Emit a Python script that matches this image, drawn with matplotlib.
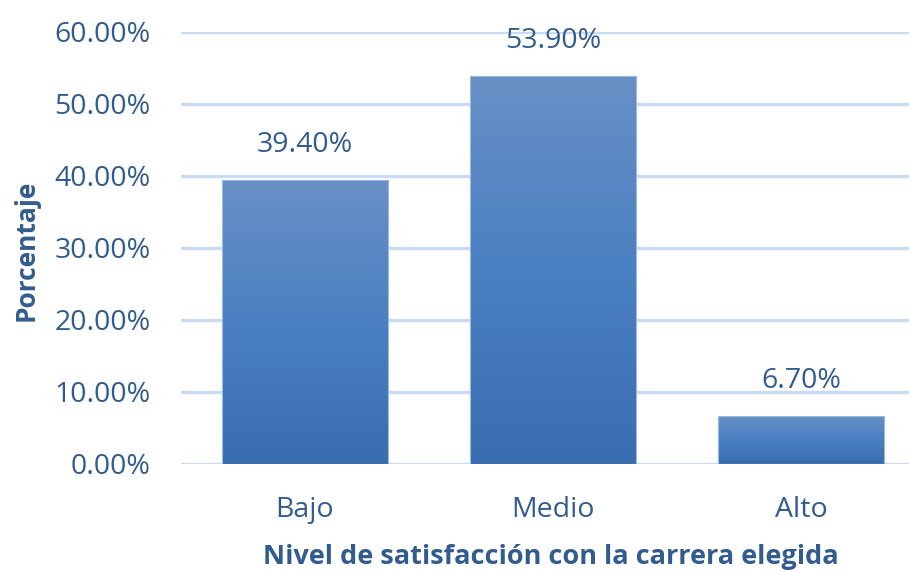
import numpy as np
import matplotlib.pyplot as plt
from matplotlib.colors import LinearSegmentedColormap

categorias = ['Bajo', 'Medio', 'Alto']
porcentajes = [39.4, 53.9, 6.7]
etiquetas = ['39.40%', '53.90%', '6.70%']
ticks_y = [0, 10, 20, 30, 40, 50, 60]

azul_texto = '#335c8e'
fuente = 'Open Sans'

fig = plt.figure(figsize=(9.09, 5.71), dpi=100)
ax = fig.add_axes([181/909, 1 - 464/571, 1 - 181/909, (464 - 32)/571])

# degradado de las barras (claro arriba, oscuro abajo)
cmap = LinearSegmentedColormap.from_list('grad', ['#3a6db0', '#4a80c2', '#6890c6'])
grad = np.linspace(0, 1, 256).reshape(-1, 1)

x = np.arange(len(categorias))
ancho = 0.67
barras = ax.bar(x, porcentajes, width=ancho, color='none', edgecolor='#9ab8e0',
                linewidth=0.8, zorder=3)
for b in barras:
    x0, y0 = b.get_x(), b.get_y()
    w, h = b.get_width(), b.get_height()
    im = ax.imshow(grad, cmap=cmap, extent=[x0, x0 + w, y0, y0 + h],
                   origin='lower', aspect='auto', zorder=2)
    im.set_clip_path(b)

for xi, v, t in zip(x, porcentajes, etiquetas):
    ax.text(xi, v + 2.9, t, ha='center', va='bottom', fontsize=20.5,
            color=azul_texto, family=fuente)

ax.set_xlim(-0.5, -0.5 + (909 - 181) / 248)
ax.set_ylim(0, 60)
ax.set_yticks(ticks_y)
ax.set_yticklabels([f'{t:.2f}%' for t in ticks_y], fontsize=20.5,
                   color=azul_texto, family=fuente)
ax.set_xticks(x)
ax.set_xticklabels(categorias, fontsize=20.5, color=azul_texto, family=fuente)
ax.tick_params(axis='y', length=0, pad=22)
ax.tick_params(axis='x', length=0, pad=23)

ax.grid(axis='y', color='#c8dbf2', linewidth=2.4, zorder=0)
ax.set_axisbelow(True)
for s in ax.spines.values():
    s.set_visible(False)

fig.text(26/909, 1 - 250/571, 'Porcentaje', rotation=90, ha='center', va='center',
         fontsize=19, fontweight='bold', color=azul_texto, family=fuente)
fig.text(551/909, 1 - 557/571, 'Nivel de satisfacción con la carrera elegida',
         ha='center', va='center', fontsize=19.5, fontweight='bold',
         color=azul_texto, family=fuente)

fig.savefig('out.png', dpi=100)
